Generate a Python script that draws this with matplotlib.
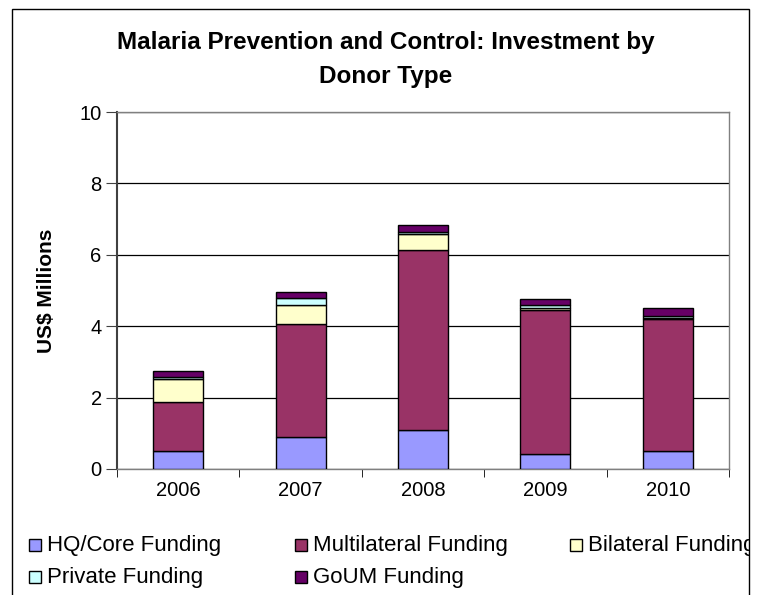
import matplotlib
matplotlib.use("Agg")
import matplotlib.pyplot as plt
from matplotlib.patches import Rectangle
from matplotlib.transforms import Bbox
import numpy as np

plt.rcParams['font.family'] = ['Liberation Sans', 'DejaVu Sans']

years = ['2006', '2007', '2008', '2009', '2010']
hq_core = [0.50, 0.90, 1.09, 0.41, 0.51]
multilateral = [1.38, 3.17, 5.04, 4.03, 3.70]
bilateral = [0.64, 0.53, 0.45, 0.08, 0.02]
private = [0.05, 0.19, 0.06, 0.06, 0.06]
goum = [0.18, 0.16, 0.20, 0.19, 0.22]

names = ['HQ/Core Funding', 'Multilateral Funding', 'Bilateral Funding',
         'Private Funding', 'GoUM Funding']
colors = ['#9999FF', '#993366', '#FFFFCC', '#CCFFFF', '#660066']
values = [hq_core, multilateral, bilateral, private, goum]

W, H = 762, 595
fig = plt.figure(figsize=(W / 100, H / 100), dpi=100)
ax = fig.add_axes([117 / W, 1 - 469 / H, (729 - 117) / W, (469 - 112) / H])

x = np.arange(len(years))
bottom = np.zeros(len(years))
for name, vals, col in zip(names, values, colors):
    ax.bar(x, vals, width=0.41, bottom=bottom, color=col,
           edgecolor='black', linewidth=1.0, label=name, zorder=3)
    bottom += np.array(vals)

ax.set_xlim(-0.5, len(years) - 0.5)
ax.set_ylim(0, 10)
ax.set_yticks(np.arange(0, 11, 2))
ax.yaxis.grid(True, color='black', linewidth=0.9, zorder=0)
ax.set_axisbelow(True)

# category labels centred, tick marks between categories
ax.set_xticks(x)
ax.set_xticklabels(years, fontsize=14.5)
ax.set_xticks(np.arange(-0.5, len(years) + 0.5, 1), minor=True)
ax.tick_params(axis='x', which='major', length=0, pad=9)
ax.tick_params(axis='x', which='minor', length=6, direction='out', color='black')
ax.tick_params(axis='y', labelsize=14.5, length=8, direction='out', color='#404040', pad=3)

for side in ['top', 'right', 'bottom']:
    ax.spines[side].set_color('#808080')
    ax.spines[side].set_linewidth(1.0)
ax.spines['left'].set_color('#404040')
ax.spines['left'].set_linewidth(1.5)

ax.set_ylabel('US$ Millions', fontsize=15, fontweight='bold', labelpad=17)

cx = 386 / W
fig.text(cx, 1 - 42 / H, 'Malaria Prevention and Control: Investment by',
         ha='center', va='center', fontsize=17.5, fontweight='bold')
fig.text(cx, 1 - 76 / H, 'Donor Type',
         ha='center', va='center', fontsize=17.5, fontweight='bold')

# outer chart frame, open at the bottom
frame = Rectangle((12 / W, -0.1), (749 - 12) / W, 1.1 - 9 / H,
                  transform=fig.transFigure, fill=False, edgecolor='black',
                  linewidth=1.0)
fig.patches.append(frame)

# legend laid out in fixed columns, clipped by the frame on the right
col_x = [29, 295, 570]
row_y = [545, 577]
clip = Bbox.from_extents(0, 0, 749, H)
for i, (name, col) in enumerate(zip(names, colors)):
    px = col_x[i % 3]
    py = row_y[i // 3]
    fig.patches.append(Rectangle((px / W, 1 - (py + 6) / H), 12 / W, 12 / H,
                                 transform=fig.transFigure, facecolor=col,
                                 edgecolor='black', linewidth=1.0))
    t = fig.text((px + 18) / W, 1 - py / H, name, ha='left', va='center',
                 fontsize=16)
    t.set_clip_box(clip)
    t.set_clip_on(True)

fig.savefig('out.png', dpi=100)
